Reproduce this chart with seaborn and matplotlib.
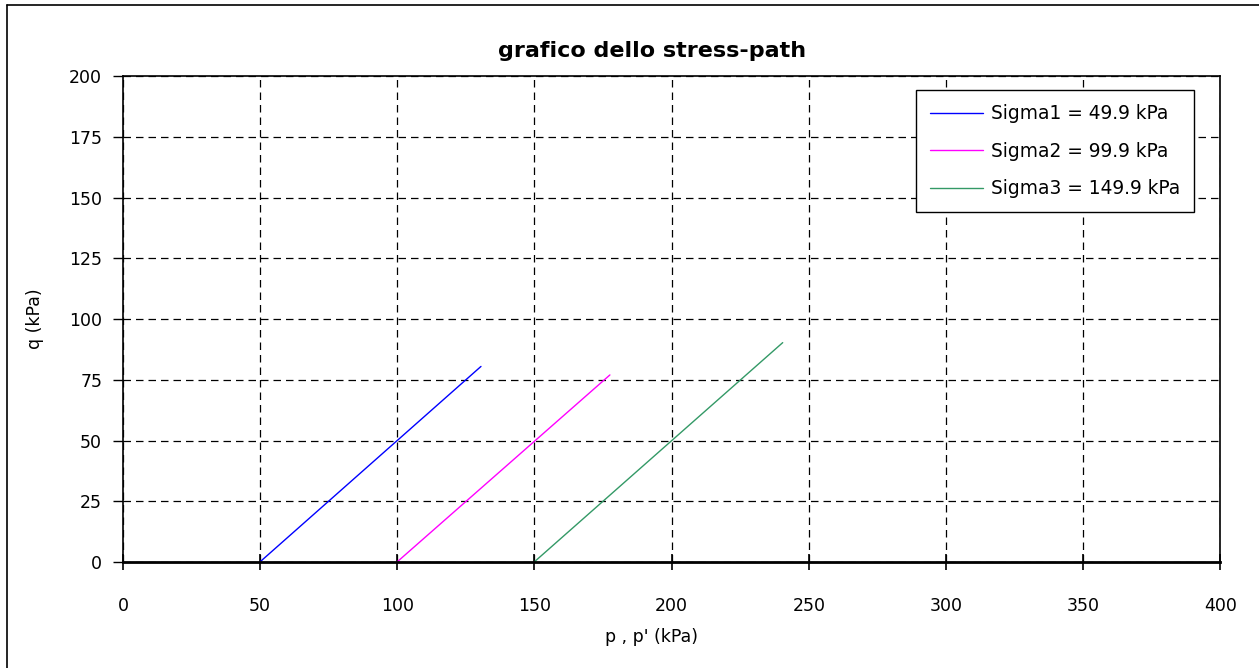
import pandas as pd
import matplotlib
matplotlib.use("Agg")
import matplotlib.pyplot as plt
import seaborn as sns

# stress-path data (start / end points)
labels = ["Sigma1 = 49.9 kPa", "Sigma2 = 99.9 kPa", "Sigma3 = 149.9 kPa"]
p_sigma1 = [49.9, 130.5]
q_sigma1 = [0.0, 80.5]
p_sigma2 = [99.9, 177.5]
q_sigma2 = [0.0, 77.0]
p_sigma3 = [149.9, 240.5]
q_sigma3 = [0.0, 90.3]
colors = ["#0000FF", "#FF00FF", "#339966"]

x_ticks = [0, 50, 100, 150, 200, 250, 300, 350, 400]
y_ticks = [0, 25, 50, 75, 100, 125, 150, 175, 200]

df = pd.concat([
    pd.DataFrame({"p": p_sigma1, "q": q_sigma1, "serie": labels[0]}),
    pd.DataFrame({"p": p_sigma2, "q": q_sigma2, "serie": labels[1]}),
    pd.DataFrame({"p": p_sigma3, "q": q_sigma3, "serie": labels[2]}),
])

sns.set_theme(style="white")
plt.rcParams["font.family"] = ["DejaVu Sans"]
plt.rcParams["text.color"] = "black"
plt.rcParams["axes.labelcolor"] = "black"
plt.rcParams["xtick.color"] = "black"
plt.rcParams["ytick.color"] = "black"

fig = plt.figure(figsize=(12.59, 6.68), dpi=100)
ax = fig.add_axes([0.0977, 0.1587, 0.8715, 0.7273])

sns.lineplot(data=df, x="p", y="q", hue="serie", palette=dict(zip(labels, colors)),
             linewidth=1.0, estimator=None, sort=False, ax=ax)

ax.set_xlim(0, 400)
ax.set_ylim(0, 200)
ax.set_xticks(x_ticks)
ax.set_yticks(y_ticks)
ax.grid(True, color="black", linestyle=(0, (6, 4)), linewidth=0.9)
ax.set_axisbelow(True)

for s in ["top", "right", "left"]:
    ax.spines[s].set_color("black")
    ax.spines[s].set_linewidth(1.2)
ax.spines["bottom"].set_color("black")
ax.spines["bottom"].set_linewidth(2.0)

ax.tick_params(axis="x", direction="inout", length=12, width=1.2, pad=19, labelsize=12.5)
ax.tick_params(axis="y", direction="out", length=7, width=1.0, pad=8, labelsize=12.5)
ax.tick_params(bottom=True, left=True)

ax.set_xlabel("p , p' (kPa)", fontsize=12.5, labelpad=8, color="black")
ax.xaxis.set_label_coords(0.482, -0.135)
ax.set_ylabel("q (kPa)", fontsize=12.5, labelpad=18, color="black")
ax.set_title("grafico dello stress-path", fontsize=16, fontweight="bold", pad=14,
             color="black", x=0.482)

leg = ax.legend(loc="upper right", bbox_to_anchor=(0.976, 0.971), fontsize=13.4,
                frameon=True, fancybox=False, edgecolor="black", framealpha=1,
                handlelength=2.85, handletextpad=0.4, borderpad=0.75, labelspacing=1.0,
                borderaxespad=0)
leg.get_frame().set_linewidth(1.0)
for t in leg.get_texts():
    t.set_color("black")

# outer chart-area border (left and top visible)
fig.add_artist(plt.Line2D([0.0056, 0.0056], [0, 0.993], transform=fig.transFigure, color="black", linewidth=1.2))
fig.add_artist(plt.Line2D([0.0056, 1.0], [0.993, 0.993], transform=fig.transFigure, color="black", linewidth=1.2))

fig.savefig("out.png", dpi=100)
